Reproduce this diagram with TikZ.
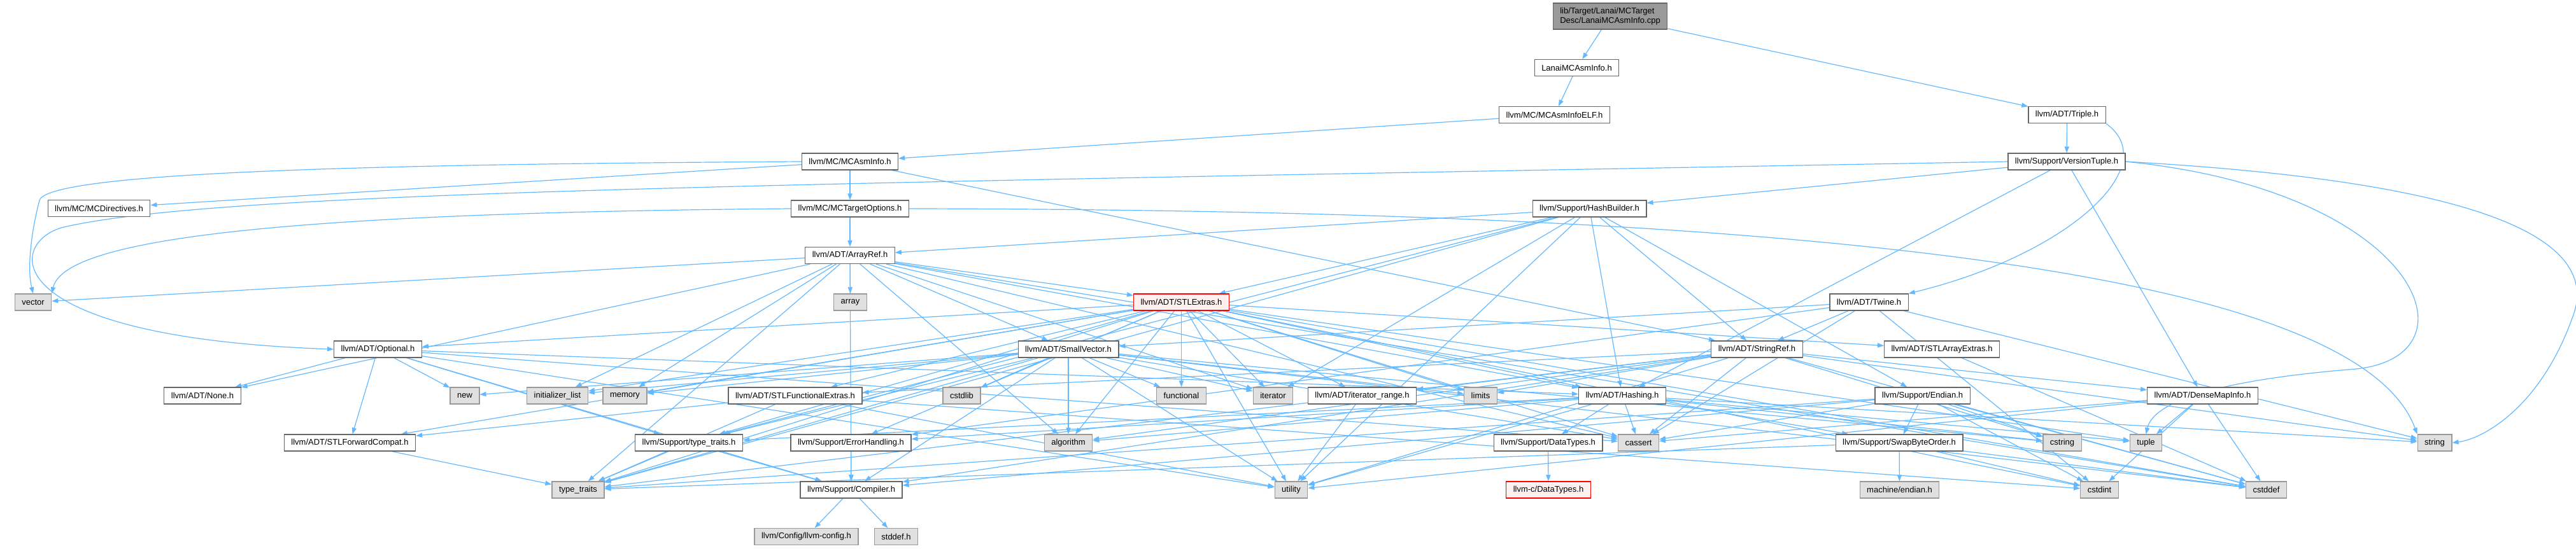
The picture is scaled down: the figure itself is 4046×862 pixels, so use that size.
\documentclass[tikz,border=0pt]{standalone}
\usepackage{fontspec}
\setmainfont{Liberation Sans}
\usepackage{tikz}
\usetikzlibrary{arrows.meta}
\definecolor{linkblue}{HTML}{63B8FF}
\definecolor{hdrline}{HTML}{666666}
\definecolor{sysline}{HTML}{999999}
\definecolor{sysfill}{HTML}{E0E0E0}
\definecolor{truncline}{HTML}{FF0000}
\definecolor{truncfill}{HTML}{FFF0F0}
\pgfdeclarelayer{background}
\pgfsetlayers{background,main}

\tikzset{
  hdr/.style={draw=hdrline, fill=white, line width=0.6pt, rectangle,
    minimum height=13pt, inner xsep=5.5pt, inner ysep=1pt,
    font=\fontsize{6.5pt}{7.8pt}\selectfont},
  sys/.style={hdr, draw=sysline, fill=sysfill},
  trunc/.style={hdr, draw=truncline, fill=truncfill},
  srcfile/.style={hdr, fill=sysline, align=left, minimum height=20.5pt},
  incl/.style={draw=linkblue, line width=0.6pt, -{Triangle[length=5pt,width=3.6pt]}}
}

\begin{document}
\begin{tikzpicture}[x=0.5pt, y=-0.5pt]
  \useasboundingbox (0,0) rectangle (4046,862);

  % top of the graph
  \node[srcfile] (cpp) at (2529,25.5) {lib/Target/Lanai/MCTarget\\Desc/LanaiMCAsmInfo.cpp};
  \node[hdr] (lanaih) at (2476.5,106.5) {LanaiMCAsmInfo.h};
  \node[hdr] (elf) at (2441.5,180.5) {llvm/MC/MCAsmInfoELF.h};
  \node[hdr] (triple) at (3246.5,180.5) {llvm/ADT/Triple.h};
  \node[hdr] (mcasm) at (1335,254) {llvm/MC/MCAsmInfo.h};
  \node[hdr] (vtuple) at (3246,254) {llvm/Support/VersionTuple.h};
  \node[hdr] (mcdir) at (155.5,327.5) {llvm/MC/MCDirectives.h};
  \node[hdr] (mctopt) at (1335,328) {llvm/MC/MCTargetOptions.h};
  \node[hdr] (hashb) at (2496.5,328) {llvm/Support/HashBuilder.h};
  \node[hdr] (arrayref) at (1335,401.5) {llvm/ADT/ArrayRef.h};

  % middle rows
  \node[sys] (vector) at (52,475) {vector};
  \node[sys] (array) at (1335.5,475) {array};
  \node[trunc] (stlextras) at (1855.5,475) {llvm/ADT/STLExtras.h};
  \node[hdr] (twine) at (2935.5,475) {llvm/ADT/Twine.h};
  \node[hdr] (optional) at (593.5,549) {llvm/ADT/Optional.h};
  \node[hdr] (smallvec) at (1678,549) {llvm/ADT/SmallVector.h};
  \node[hdr] (stringref) at (2759.5,549) {llvm/ADT/StringRef.h};
  \node[hdr] (stlarr) at (3050,549) {llvm/ADT/STLArrayExtras.h};
  \node[hdr] (none) at (318,622) {llvm/ADT/None.h};
  \node[sys] (new) at (730,622) {new};
  \node[sys] (initlist) at (875.5,622) {initializer\_list};
  \node[sys] (memory) at (981.5,622) {memory};
  \node[hdr] (stlfunc) at (1249,622) {llvm/ADT/STLFunctionalExtras.h};
  \node[sys] (cstdlib) at (1510.5,622) {cstdlib};
  \node[sys] (functional) at (1855.5,622) {functional};
  \node[sys] (iterator) at (1999.5,622) {iterator};
  \node[hdr] (itrange) at (2139.5,622) {llvm/ADT/iterator\_range.h};
  \node[sys] (limits) at (2325.5,622) {limits};
  \node[hdr] (hashing) at (2548,622) {llvm/ADT/Hashing.h};
  \node[hdr] (endian) at (3019.5,622) {llvm/Support/Endian.h};
  \node[hdr] (densemap) at (3459.5,622) {llvm/ADT/DenseMapInfo.h};
  \node[hdr] (stlfwd) at (549.5,696) {llvm/ADT/STLForwardCompat.h};
  \node[hdr] (suptt) at (1082,696) {llvm/Support/type\_traits.h};
  \node[hdr] (errh) at (1336.5,696) {llvm/Support/ErrorHandling.h};
  \node[sys] (algorithm) at (1678,696) {algorithm};
  \node[hdr] (datatypes) at (2431.5,696) {llvm/Support/DataTypes.h};
  \node[sys] (cassert) at (2573.5,696) {cassert};
  \node[hdr] (swapbo) at (2983,696) {llvm/Support/SwapByteOrder.h};
  \node[sys] (cstring) at (3239,696) {cstring};
  \node[sys] (tuple) at (3370.5,696) {tuple};
  \node[sys] (string) at (3824,696) {string};

  % bottom rows
  \node[sys] (typetraits) at (908,770) {type\_traits};
  \node[hdr] (compiler) at (1337,770) {llvm/Support/Compiler.h};
  \node[sys] (utility) at (2028,770) {utility};
  \node[trunc] (llvmc) at (2432,770) {llvm-c/DataTypes.h};
  \node[sys] (mendian) at (2983.5,770) {machine/endian.h};
  \node[sys] (cstdint) at (3297.5,770) {cstdint};
  \node[sys] (cstddef) at (3559.5,770) {cstddef};
  \node[sys] (llvmconfig) at (1266.5,843.5) {llvm/Config/llvm-config.h};
  \node[sys] (stddef) at (1407.5,843.5) {stddef.h};

  \begin{pgfonlayer}{background}
  % includes of the top files
  \foreach \t in {lanaih, triple} \draw[incl] (cpp) -- (\t);
  \draw[incl] (lanaih) -- (elf);
  \draw[incl] (elf) -- (mcasm);
  \foreach \t in {mcdir, mctopt, stringref} \draw[incl] (mcasm) -- (\t);
  \draw[incl] (mcasm.west) .. controls (600,258) and (75,270) .. (62,315)
    .. controls (50,360) and (42,420) .. (vector.north);
  \draw[incl] (triple) -- (vtuple);
  \draw[incl] (triple.south east) .. controls (3400,260) and (3250,400) .. (twine.north east);
  \foreach \t in {densemap, hashing, hashb} \draw[incl] (vtuple) -- (\t);
  \draw[incl] (vtuple.west) .. controls (1200,290) and (350,300) .. (100,357)
    .. controls (10,380) and (-10,530) .. (optional.west);
  \draw[incl] (vtuple.east) .. controls (3800,280) and (4100,350) .. (4040,500)
    .. controls (3990,640) and (3900,690) .. (string.east);
  \draw[incl] (vtuple.east) .. controls (3800,300) and (3900,560) .. (3700,580)
    .. controls (3450,600) and (3380,640) .. (tuple.north);
  \draw[incl] (mctopt) -- (arrayref);
  \draw[incl] (mctopt.west) .. controls (400,335) and (100,380) .. (vector.north east);
  \draw[incl] (mctopt.east) .. controls (2800,330) and (3700,420) .. (string.north west);
  \foreach \t in {arrayref, hashing, stlextras, stringref, endian, suptt, iterator, typetraits, utility}
    \draw[incl] (hashb) -- (\t);

  % ADT headers
  \foreach \t in {hashing, none, smallvec, stlextras, compiler, algorithm, array, cassert, cstddef,
      initlist, iterator, memory, typetraits, vector}
    \draw[incl] (arrayref) -- (\t);
  \foreach \t in {optional, stlarr, stlfwd, stlfunc, itrange, errh, suptt, hashing, algorithm, cassert,
      cstddef, cstdint, cstdlib, functional, initlist, iterator, limits, memory, tuple, typetraits, utility}
    \draw[incl] (stlextras) -- (\t);
  \foreach \t in {compiler, suptt, algorithm, cassert, cstddef, cstdlib, cstring, functional, initlist,
      iterator, limits, memory, new, typetraits, utility}
    \draw[incl] (smallvec) -- (\t);
  \foreach \t in {hashing, none, stlfwd, compiler, suptt, cassert, new, utility}
    \draw[incl] (optional) -- (\t);
  \foreach \t in {densemap, stlfunc, itrange, compiler, algorithm, cassert, cstddef, cstring, limits,
      string, typetraits, utility}
    \draw[incl] (stringref) -- (\t);
  \foreach \t in {smallvec, stringref, errh, cassert, cstdint, string} \draw[incl] (twine) -- (\t);
  \draw[incl] (stlarr) -- (cstddef);
  \foreach \t in {stlfwd, typetraits, utility, cstdint} \draw[incl] (stlfunc) -- (\t);
  \draw[incl] (itrange) -- (utility);
  \foreach \t in {datatypes, errh, swapbo, suptt, algorithm, cassert, cstring, string, tuple, utility}
    \draw[incl] (hashing) -- (\t);
  \foreach \t in {cassert, cstddef, cstdint, tuple, utility} \draw[incl] (densemap) -- (\t);

  % Support headers
  \foreach \t in {compiler, swapbo, cassert, cstddef, cstdint, cstring, typetraits}
    \draw[incl] (endian) -- (\t);
  \foreach \t in {mendian, cstddef, cstdint, typetraits} \draw[incl] (swapbo) -- (\t);
  \draw[incl] (stlfwd) -- (typetraits);
  \foreach \t in {compiler, typetraits} \draw[incl] (suptt) -- (\t);
  \draw[incl] (errh) -- (compiler);
  \draw[incl] (datatypes) -- (llvmc);
  \foreach \t in {llvmconfig, stddef} \draw[incl] (compiler) -- (\t);
  \end{pgfonlayer}
\end{tikzpicture}
\end{document}
